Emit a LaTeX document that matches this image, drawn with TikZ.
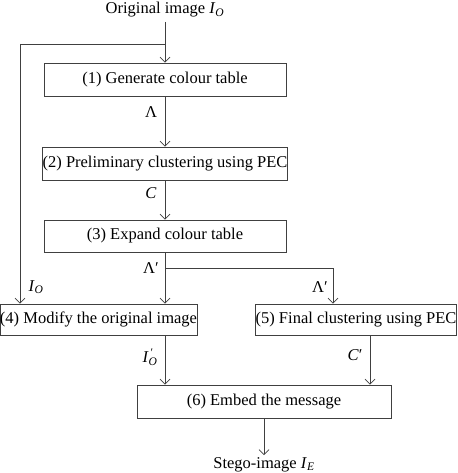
\documentclass[tikz,border=0pt]{standalone}
\usepackage{fontspec}
\setmainfont{Liberation Serif}
\usetikzlibrary{arrows.meta}
\newcommand{\sub}[1]{\textsubscript{\textit{#1}}}
\begin{document}
\begin{tikzpicture}[x=1pt,y=-1pt,
  box/.style={draw=black!75,line width=0.7pt,rectangle,inner sep=0pt,font=\fontsize{16.5}{18}\selectfont},
  lab/.style={font=\fontsize{16.5}{18}\selectfont,inner sep=0pt},
  conn/.style={draw=black!75,line width=0.7pt,-{Straight Barb[length=5pt,width=10pt]}},
  line/.style={draw=black!75,line width=0.7pt}]
\useasboundingbox (0,0) rectangle (457,473);
\node[lab] (title) at (165,10) {Original image \textit{I}\sub{O}};
\node[box,minimum width=242pt,minimum height=33pt] (b1) at (165,79.5) {(1) Generate colour table};
\node[box,minimum width=242pt,minimum height=33pt] (b2) at (165,163.5) {(2) Preliminary clustering using PEC};
\node[box,minimum width=242pt,minimum height=32pt] (b3) at (165,236) {(3) Expand colour table};
\node[box,minimum width=195pt,minimum height=31pt] (b4) at (98.5,319.5) {(4) Modify the original image};
\node[box,minimum width=197pt,minimum height=31pt] (b5) at (356,319.5) {(5) Final clustering using PEC};
\node[box,minimum width=254pt,minimum height=33pt] (b6) at (264,401.5) {(6) Embed the message};
\node[lab] (out) at (264,464.5) {Stego-image \textit{I}\sub{E}};
\coordinate (t0) at (165,22);
\coordinate (j1) at (165,44);
\coordinate (L) at (20,44);
\coordinate (j2) at (165,268);
\coordinate (R) at (333,268);
\coordinate (e6) at (264,455);
\draw[conn] (t0) -- (b1.north);
\draw[line] (j1) -- (L);
\draw[conn] (L) -- (L |- b4.north);
\draw[conn] (b1.south) -- (b2.north);
\draw[conn] (b2.south) -- (b3.north);
\draw[conn] (b3.south) -- (b3.south |- b4.north);
\draw[line] (j2) -- (R);
\draw[conn] (R) -- (R |- b5.north);
\draw[conn] (b4.south -| j1) -- (j1 |- b6.north);
\draw[conn] (b5.south -| 370,0) -- (370,0 |- b6.north);
\draw[conn] (b6.south) -- (e6);
\node[lab] (l1) at (151,112) {Λ};
\node[lab] (l2) at (151,193) {\textit{C}};
\node[lab] (l3) at (151,268) {Λ′};
\node[lab] (l4) at (320,287) {Λ′};
\node[lab] (l5) at (36,287) {\textit{I}\sub{O}};
\node[lab] (l6) at (150,357) {\textit{I}\rlap{\textsuperscript{\,′}}\sub{O}};
\node[lab] (l7) at (355,355) {\textit{C}′};
\end{tikzpicture}
\end{document}
